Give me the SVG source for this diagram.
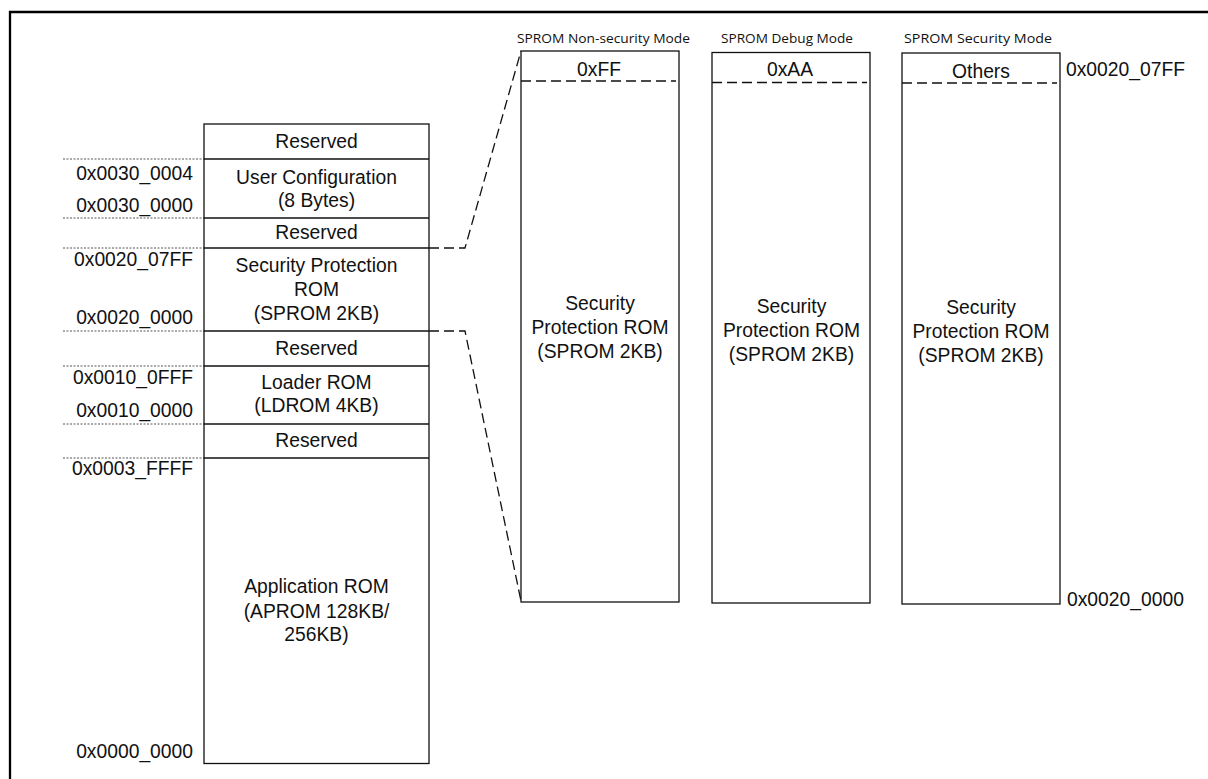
<svg xmlns="http://www.w3.org/2000/svg" width="1208" height="779" viewBox="0 0 1208 779">
<style>
  .box{fill:#fff;stroke:#111;stroke-width:1.3}
  .div{stroke:#111;stroke-width:1.3}
  .dot{stroke:#555;stroke-width:1;stroke-dasharray:2,1.5}
  .idash{stroke:#111;stroke-width:1.3;stroke-dasharray:10,5;fill:none}
  .conn{stroke:#111;stroke-width:1.3;stroke-dasharray:10,5;fill:none}
  .t{font-family:"Liberation Sans",Arial,sans-serif;font-size:19.3px;fill:#111}
  .c{text-anchor:middle}
  .r{text-anchor:end}
  .m{font-family:"Open Sans","Noto Sans",sans-serif;font-size:13.5px;fill:#111}
</style>
<rect x="0" y="0" width="1208" height="779" fill="#fff"/>
<g id="frame">
  <line x1="9" y1="12" x2="1208" y2="12" stroke="#000" stroke-width="2.3"/>
  <line x1="10" y1="11" x2="10" y2="779" stroke="#000" stroke-width="2.3"/>
</g>

<g id="address-guides">
  <line class="dot" x1="63" y1="159" x2="204" y2="159"/>
  <line class="dot" x1="63" y1="218" x2="204" y2="218"/>
  <line class="dot" x1="63" y1="248" x2="204" y2="248"/>
  <line class="dot" x1="63" y1="331" x2="204" y2="331"/>
  <line class="dot" x1="63" y1="366" x2="204" y2="366"/>
  <line class="dot" x1="63" y1="424" x2="204" y2="424"/>
  <line class="dot" x1="63" y1="458" x2="204" y2="458"/>
  <text class="t r" x="193" y="179.5">0x0030_0004</text>
  <text class="t r" x="193" y="212">0x0030_0000</text>
  <text class="t r" x="193" y="265.5">0x0020_07FF</text>
  <text class="t r" x="193" y="323.8">0x0020_0000</text>
  <text class="t r" x="193" y="383.8">0x0010_0FFF</text>
  <text class="t r" x="193" y="416.5">0x0010_0000</text>
  <text class="t r" x="193" y="474.5">0x0003_FFFF</text>
  <text class="t r" x="193" y="757.8">0x0000_0000</text>
</g>

<g id="memory-map">
  <rect class="box" x="204" y="124" width="225" height="639.5"/>
  <g id="mm-reserved-top">
    <text class="t c" x="316.5" y="148">Reserved</text>
  </g>
  <line class="div" x1="204" y1="159" x2="429" y2="159"/>
  <g id="mm-user-config">
    <text class="t c" x="316.5" y="183.8">User Configuration</text>
    <text class="t c" x="316.5" y="206.5">(8 Bytes)</text>
  </g>
  <line class="div" x1="204" y1="218" x2="429" y2="218"/>
  <g id="mm-reserved-2">
    <text class="t c" x="316.5" y="238.8">Reserved</text>
  </g>
  <line class="div" x1="204" y1="248" x2="429" y2="248"/>
  <g id="mm-sprom">
    <text class="t c" x="316.5" y="272">Security Protection</text>
    <text class="t c" x="316.5" y="296">ROM</text>
    <text class="t c" x="316.5" y="319.8">(SPROM 2KB)</text>
  </g>
  <line class="div" x1="204" y1="331" x2="429" y2="331"/>
  <g id="mm-reserved-3">
    <text class="t c" x="316.5" y="354.5">Reserved</text>
  </g>
  <line class="div" x1="204" y1="366" x2="429" y2="366"/>
  <g id="mm-ldrom">
    <text class="t c" x="316.5" y="388.8">Loader ROM</text>
    <text class="t c" x="316.5" y="412">(LDROM 4KB)</text>
  </g>
  <line class="div" x1="204" y1="424" x2="429" y2="424"/>
  <g id="mm-reserved-4">
    <text class="t c" x="316.5" y="446.5">Reserved</text>
  </g>
  <line class="div" x1="204" y1="458" x2="429" y2="458"/>
  <g id="mm-aprom">
    <text class="t c" x="316.5" y="593">Application ROM</text>
    <text class="t c" x="316.5" y="617.8">(APROM 128KB/</text>
    <text class="t c" x="316.5" y="640.5">256KB)</text>
  </g>
</g>

<g id="connectors">
  <polyline class="conn" points="429,248 465,248 521,51"/>
  <polyline class="conn" points="429,331 465,331 521,601"/>
</g>

<g id="sprom-nonsecurity">
  <text class="m" x="517" y="43" textLength="173" lengthAdjust="spacingAndGlyphs">SPROM Non-security Mode</text>
  <rect class="box" x="521" y="51" width="158" height="551"/>
  <line class="idash" x1="521" y1="81" x2="676" y2="81"/>
  <text class="t c" x="599" y="75.5">0xFF</text>
  <text class="t c" x="600" y="310">Security</text>
  <text class="t c" x="600" y="334">Protection ROM</text>
  <text class="t c" x="600" y="357.5">(SPROM 2KB)</text>
</g>

<g id="sprom-debug">
  <text class="m" x="721" y="43" textLength="132" lengthAdjust="spacingAndGlyphs">SPROM Debug Mode</text>
  <rect class="box" x="712" y="52.5" width="158" height="550.5"/>
  <line class="idash" x1="712" y1="82.5" x2="867" y2="82.5"/>
  <text class="t c" x="790" y="75.5">0xAA</text>
  <text class="t c" x="791.5" y="313">Security</text>
  <text class="t c" x="791.5" y="337">Protection ROM</text>
  <text class="t c" x="791.5" y="361">(SPROM 2KB)</text>
</g>

<g id="sprom-security">
  <text class="m" x="904" y="43" textLength="148" lengthAdjust="spacingAndGlyphs">SPROM Security Mode</text>
  <rect class="box" x="902" y="53" width="158" height="551"/>
  <line class="idash" x1="902" y1="83" x2="1057" y2="83"/>
  <text class="t c" x="981" y="77.7">Others</text>
  <text class="t c" x="981" y="314">Security</text>
  <text class="t c" x="981" y="338">Protection ROM</text>
  <text class="t c" x="981" y="362">(SPROM 2KB)</text>
  <text class="t" x="1066" y="75.5">0x0020_07FF</text>
  <text class="t" x="1067" y="606">0x0020_0000</text>
</g>
</svg>
